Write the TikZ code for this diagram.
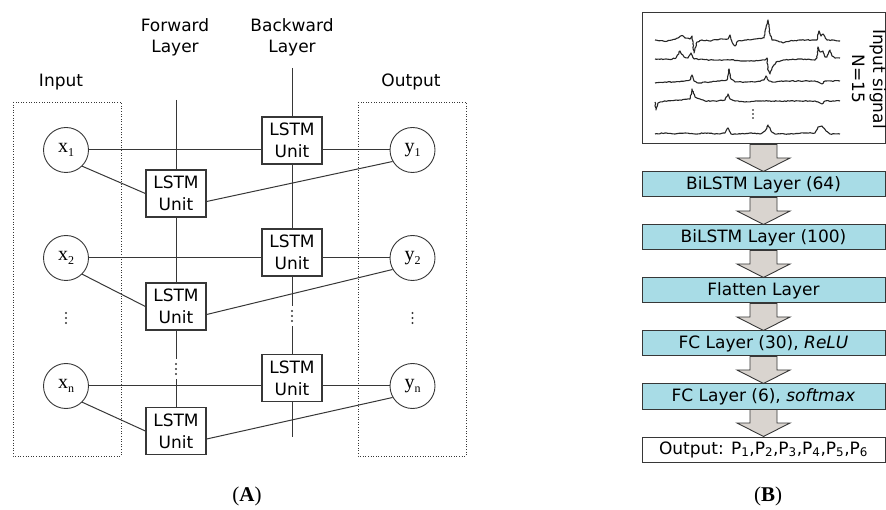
\documentclass[tikz,border=0pt]{standalone}
\usepackage{fontspec}
\setmainfont{DejaVu Sans}
\newfontfamily\serifx{Liberation Serif}
\usetikzlibrary{calc,decorations.pathmorphing}
\definecolor{layerblue}{RGB}{168,220,230}
\definecolor{arrowgray}{RGB}{217,212,207}
\definecolor{edge}{RGB}{55,55,55}
\newcommand\subx[1]{\raisebox{-4pt}{\fontsize{12}{12}\selectfont #1}}
\newcommand\blockarr[2]{%
  \path ($(#1.south)!0.5!(#2.north)$) coordinate (m#1);
  \draw[blockarrow] ([xshift=-13.5pt]#1.south) -- ([xshift=13.5pt]#1.south) -- ([xshift=13.5pt]m#1) -- ([xshift=26.5pt]m#1) -- (#2.north) -- ([xshift=-26.5pt]m#1) -- ([xshift=-13.5pt]m#1) -- cycle;}
\begin{document}
\pgfmathsetseed{7}
\begin{tikzpicture}[x=1pt,y=-1pt,
  lbl/.style={font=\fontsize{17}{21}\selectfont, align=center, inner sep=0},
  unitbox/.style={draw=edge, line width=1.3pt, fill=white, minimum width=60pt, minimum height=47pt, inner sep=0, align=center, font=\fontsize{17}{22}\selectfont},
  io/.style={draw=edge, line width=0.9pt, circle, minimum size=45pt, inner sep=0, font=\serifx\fontsize{20}{20}\selectfont},
  wire/.style={draw=edge, line width=1pt},
  region/.style={draw=edge, line width=0.9pt, dash pattern=on 1pt off 1.6pt},
  dotgap/.style={minimum width=6pt, minimum height=#1, inner sep=0,
     path picture={\foreach \d in {-5,0,5}{\fill[edge] ([yshift=\d pt]path picture bounding box.center) circle (1.1pt);}}},
  dotgap/.default=18pt,
  smalldots/.style={minimum width=5pt, minimum height=14pt, inner sep=0,
     path picture={\foreach \d in {-4,0,4}{\fill[black] ([yshift=\d pt]path picture bounding box.center) circle (0.9pt);}}},
  layerbox/.style={draw=edge, line width=1pt, fill=layerblue, minimum width=243pt, minimum height=25pt, inner sep=0, font=\fontsize{17}{20}\selectfont},
  outbox/.style={layerbox, fill=white},
  blockarrow/.style={draw=edge, line width=0.9pt, fill=arrowgray, line join=miter},
  sig/.style={draw=black!85, line width=1.1pt, line join=round,
     decorate, decoration={random steps, segment length=1.6pt, amplitude=0.45pt}},
  captxt/.style={font=\serifx\fontsize{21}{21}\selectfont, inner sep=0}
]
\useasboundingbox (0,0) rectangle (886,510);

% ---------------- Panel A ----------------
\draw[region] (13,102) rectangle (121,456);
\draw[region] (358,102) rectangle (466,456);
\node[lbl] (inlbl) at (61,82) {Input};
\node[lbl] (outlbl) at (411,82) {Output};
\node[lbl] (fwlbl) at (175,37) {Forward\\Layer};
\node[lbl] (bwlbl) at (292,37) {Backward\\Layer};

\node[io] (x1) at (66,150) {x\subx{1}};
\node[io] (x2) at (66,258) {x\subx{2}};
\node[io] (xn) at (66,386) {x\subx{n}};
\node[io] (y1) at (412.5,150) {y\subx{1}};
\node[io] (y2) at (412.5,258) {y\subx{2}};
\node[io] (yn) at (412.5,386) {y\subx{n}};
\node[dotgap] (xd) at (66,318) {};
\node[dotgap] (yd) at (412.5,318) {};

\node[unitbox] (B1) at (292,140.5) {LSTM\\Unit};
\node[unitbox] (F1) at (176,193.5) {LSTM\\Unit};
\node[unitbox] (B2) at (292,252.5) {LSTM\\Unit};
\node[unitbox] (F2) at (176,306.5) {LSTM\\Unit};
\node[unitbox] (Bn) at (292,378) {LSTM\\Unit};
\node[unitbox] (Fn) at (176,431) {LSTM\\Unit};

\coordinate (btop) at (292,68);
\coordinate (ftop) at (176,100);
\coordinate (bbot) at (292,437);
\node[dotgap=20pt] (bdots) at (292,316) {};
\node[dotgap=20pt] (fdots) at (176,369) {};

\draw[wire] (btop) -- (B1) -- (B2) -- (bdots) -- (Bn) -- (bbot);
\draw[wire] (ftop) -- (F1) -- (F2) -- (fdots) -- (Fn);

\foreach \r in {1,2,n}{
  \draw[wire] (x\r) -- (x\r -| B\r.west);
  \draw[wire] (B\r.east |- y\r) -- (y\r);
  \draw[wire] (x\r.-45) -- (F\r.west);
  \draw[wire] ([yshift=-8pt]F\r.east) -- (y\r.-150);
}

\node[captxt] (capA) at (247,496) {(\textbf{A})};

% ---------------- Panel B ----------------
\node[draw=edge, line width=1pt, minimum width=243pt, minimum height=131pt, inner sep=0] (sigbox) at (763.5,78.5) {};
\node[lbl, rotate=-90] (siglbl) at (869,79) {Input signal\\N=15};

\draw[sig] (655,40) -- (665,41.5) -- (672,40) -- (678,38) -- (682,35.5) -- (685,38) -- (690,39) -- (692,36) -- (694,53) -- (697,42) -- (702,40) -- (710,41) -- (720,39) -- (728,39) -- (730,35) -- (732,42) -- (735,46) -- (738,41) -- (745,40) -- (755,39) -- (764,38) -- (766,28) -- (768,20) -- (770,34) -- (772,40) -- (778,41) -- (783,43) -- (790,41) -- (800,40) -- (812,40) -- (817,40) -- (819,31) -- (821,36) -- (823,34) -- (825,37) -- (827,40) -- (840,41);
\draw[sig] (655,59) -- (670,59.5) -- (676,58) -- (680,51) -- (684,57) -- (688,58) -- (691,53) -- (694,59) -- (710,60) -- (730,60) -- (745,61) -- (755,61) -- (765,60) -- (767,58) -- (768,70) -- (770,74) -- (772,68) -- (776,62) -- (785,60) -- (800,59) -- (815,60) -- (817,58) -- (818,47) -- (820,52) -- (823,51) -- (825,57) -- (827,57) -- (830,50) -- (832,56) -- (835,58) -- (840,58);
\draw[sig] (655,83) -- (665,82) -- (675,82) -- (685,81) -- (690,80) -- (692,75) -- (694,81) -- (698,83) -- (710,82) -- (720,81) -- (727,80) -- (729,69) -- (731,79) -- (735,82) -- (745,82) -- (755,82) -- (764,80) -- (766,76) -- (768,80) -- (772,82) -- (785,81) -- (800,81) -- (815,81) -- (820,83) -- (822,84) -- (825,81) -- (840,81);
\draw[sig] (655,102) -- (656,110) -- (658,103) -- (665,101) -- (680,100) -- (690,99) -- (692,89) -- (695,97) -- (700,99) -- (705,101) -- (715,101) -- (725,100) -- (728,94) -- (730,99) -- (735,101) -- (745,102) -- (760,101) -- (780,101) -- (800,101) -- (815,101) -- (820,103) -- (822,104) -- (825,101) -- (840,101);
\draw[sig] (655,134) -- (665,133) -- (675,134) -- (685,133) -- (695,134) -- (705,133) -- (715,134) -- (725,133) -- (728,128) -- (731,134) -- (740,134) -- (750,133) -- (760,134) -- (765,131) -- (768,125) -- (771,131) -- (775,134) -- (790,134) -- (805,133) -- (815,133) -- (818,127) -- (822,126) -- (826,131) -- (830,134) -- (840,134);
\node[smalldots] (sigdots) at (753,114) {};

\node[layerbox] (l1) at (763.5,184.5) {BiLSTM Layer (64)};
\node[layerbox] (l2) at (763.5,237.5) {BiLSTM Layer (100)};
\node[layerbox] (l3) at (763.5,290.5) {Flatten Layer};
\node[layerbox] (l4) at (763.5,343.5) {FC Layer (30), \textit{ReLU}};
\node[layerbox] (l5) at (763.5,396.5) {FC Layer (6), \textit{softmax}};
\node[outbox] (l6) at (763.5,449.5) {Output: P\textsubscript{1},P\textsubscript{2},P\textsubscript{3},P\textsubscript{4},P\textsubscript{5},P\textsubscript{6}};

\blockarr{sigbox}{l1}
\blockarr{l1}{l2}
\blockarr{l2}{l3}
\blockarr{l3}{l4}
\blockarr{l4}{l5}
\blockarr{l5}{l6}

\node[captxt] (capB) at (768,496) {(\textbf{B})};
\end{tikzpicture}
\end{document}
